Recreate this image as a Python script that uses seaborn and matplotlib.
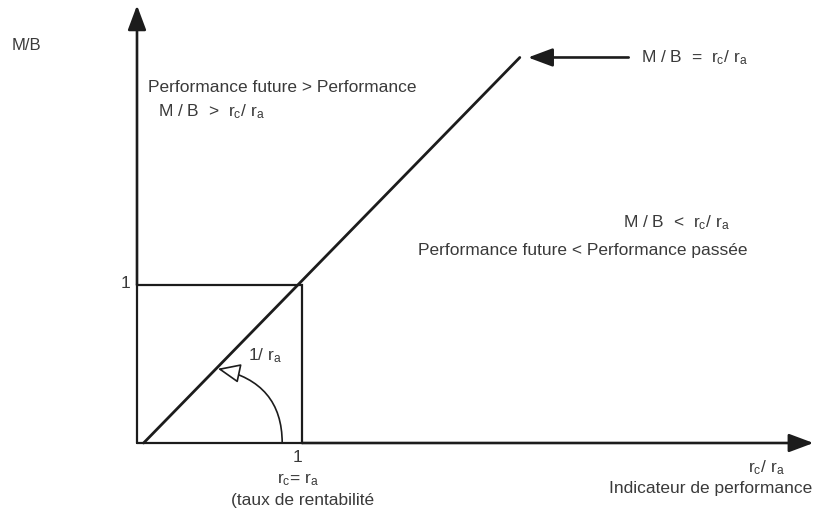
import numpy as np
import pandas as pd
import matplotlib.pyplot as plt
import seaborn as sns

# Schematic values (unit square = 1 on both axes)
diag_x = [0.04, 2.32]          # M/B = rc/ra line
diag_y = [0.0, 2.44]
square_x = [0, 1, 1, 0, 0]
square_y = [0, 0, 1, 1, 0]
x_axis_end = 4.10
y_axis_end = 2.77
ref_arrow_x = [2.98, 2.37]     # arrow pointing at the line end
ref_arrow_y = 2.44
arc_start = (0.88, 0.0)
arc_end = (0.49, 0.47)

sns.set_theme(style='white')
plt.rcParams['font.family'] = ['Liberation Sans', 'DejaVu Sans']
plt.rcParams['mathtext.fontset'] = 'custom'
plt.rcParams['mathtext.rm'] = 'Liberation Sans'
plt.rcParams['mathtext.it'] = 'Liberation Sans'

fig = plt.figure(figsize=(8.15, 5.12), dpi=100)
ax = fig.add_axes([0, 0, 1, 1])
ax.set_xlim(-137 / 165, 678 / 165)
ax.set_ylim(-69 / 158, 443 / 158)
ax.axis('off')

line_c = '#1c1c1c'
text_c = '#3a3a3a'

# diagonal and unit square
df_diag = pd.DataFrame({'x': diag_x, 'y': diag_y})
sns.lineplot(data=df_diag, x='x', y='y', color=line_c, lw=2.0, ax=ax)
ax.plot(square_x, square_y, color=line_c, lw=1.6, solid_joinstyle='miter')

# axes with solid arrowheads
solid = dict(arrowstyle='-|>,head_length=0.75,head_width=0.28', color=line_c,
             lw=1.9, mutation_scale=20, shrinkA=0, shrinkB=0)
ax.annotate('', xy=(x_axis_end, 0), xytext=(1, 0), arrowprops=solid)
ax.annotate('', xy=(0, y_axis_end), xytext=(0, 1), arrowprops=solid)
ax.annotate('', xy=(ref_arrow_x[1], ref_arrow_y), xytext=(ref_arrow_x[0], ref_arrow_y),
            arrowprops=solid)

# angle arc with open arrowhead
ax.annotate('', xy=arc_end, xytext=arc_start,
            arrowprops=dict(arrowstyle='-|>,head_length=0.7,head_width=0.3',
                            fc='white', ec=line_c, lw=1.2, mutation_scale=20,
                            shrinkA=0, shrinkB=0,
                            connectionstyle='angle3,angleA=90,angleB=-12'))


def px(x, y):
    return x / 815, 1 - y / 512


fs = 12.5
fig.text(*px(12, 45), 'M/B', fontsize=12, color=text_c, va='center')
fig.text(*px(148, 88), 'Performance future > Performance', fontsize=fs, color=text_c, va='center')
fig.text(*px(158, 112), 'M / B  >  r$_c$/ r$_a$', fontsize=fs, color=text_c, va='center')
fig.text(*px(641, 58), 'M / B  =  r$_c$/ r$_a$', fontsize=fs, color=text_c, va='center')
fig.text(*px(623, 223), 'M / B  <  r$_c$/ r$_a$', fontsize=fs, color=text_c, va='center')
fig.text(*px(418, 251), 'Performance future < Performance passée', fontsize=fs, color=text_c, va='center')
fig.text(*px(248, 356), '1/ r$_a$', fontsize=fs, color=text_c, va='center')
fig.text(*px(126, 283), '1', fontsize=fs, color=text_c, va='center', ha='center')
fig.text(*px(298, 458), '1', fontsize=fs, color=text_c, va='center', ha='center')
fig.text(*px(298, 480), 'r$_c$= r$_a$', fontsize=fs, color=text_c, va='center', ha='center')
fig.text(*px(231, 501), '(taux de rentabilité', fontsize=fs, color=text_c, va='center')
fig.text(*px(785, 468), 'r$_c$/ r$_a$', fontsize=fs, color=text_c, va='center', ha='right')
fig.text(*px(812, 488), 'Indicateur de performance', fontsize=fs, color=text_c,
         va='center', ha='right')

plt.savefig('out.png', dpi=100)
